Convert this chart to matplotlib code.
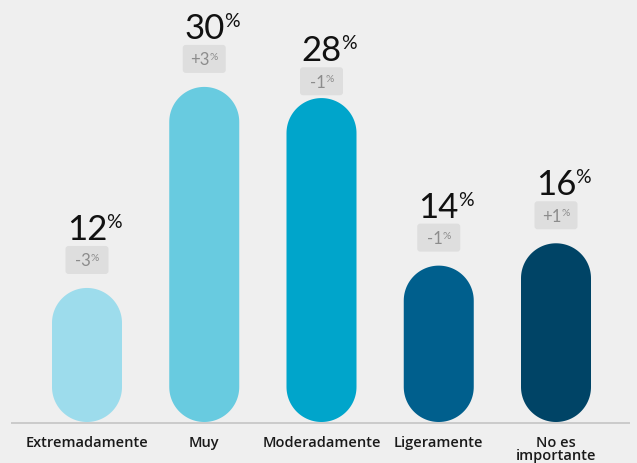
import matplotlib
matplotlib.use("Agg")
import numpy as np
from matplotlib import pyplot as plt
from matplotlib.patches import FancyBboxPatch, Polygon

plt.rcParams['font.family'] = ['Lato', 'DejaVu Sans']

# chart data
categories = ["Extremadamente", "Muy", "Moderadamente", "Ligeramente", "No es\nimportante"]
values = [12, 30, 28, 14, 16]            # shown labels
bar_lengths = [12.0, 30.0, 29.0, 14.0, 16.0]   # bar lengths as drawn
changes = ["-3", "+3", "-1", "-1", "+1"]
colors = ["#9ddcec", "#68cbe0", "#00a5cb", "#005f8d", "#004466"]

bg = "#efefef"
W, H = 637, 463

fig = plt.figure(figsize=(W / 100, H / 100), dpi=100, facecolor=bg)
base_px = 422          # baseline, pixels from the top
px_x = 117.25          # pixels per category step
px_y = 11.17           # pixels per percent
first_px = 87

ax = fig.add_axes([0, 1 - base_px / H, 1, base_px / H])
ax.set_facecolor(bg)
ax.set_xlim(-first_px / px_x, (W - first_px) / px_x)
ax.set_ylim(0, base_px / px_y)
ax.axis("off")

rx = 35 / px_x
ry = 35 / px_y
aspect = px_x / px_y
ang_top = np.linspace(0, np.pi, 60)
ang_bot = np.linspace(np.pi, 2 * np.pi, 60)

for i, (v, ln, c) in enumerate(zip(values, bar_lengths, colors)):
    # pill shaped bar
    top = np.column_stack([i + rx * np.cos(ang_top), ln - ry + ry * np.sin(ang_top)])
    bot = np.column_stack([i + rx * np.cos(ang_bot), ry + ry * np.sin(ang_bot)])
    ax.add_patch(Polygon(np.vstack([top, bot]), closed=True, fc=c, ec="none"))

    # change box
    bw, bh = 43 / px_x, 28 / px_y
    by = v + 14 / px_y
    box = FancyBboxPatch((i - bw / 2, by), bw, bh,
                         boxstyle="round,pad=0,rounding_size=%f" % (3 / px_x),
                         mutation_aspect=aspect, fc="#dedede", ec="none")
    ax.add_patch(box)
    t = ax.text(i - 4 / px_x, by + bh / 2 - 6.5 / px_y, changes[i], ha="center", va="baseline",
                fontsize=12, color="#8c8c8c")
    ax.annotate("%", xy=(1, 0), xycoords=t, xytext=(0, 6), textcoords="offset points",
                ha="left", va="baseline", fontsize=7.5, color="#8c8c8c")

    # big value
    n = ax.text(i, v + 48 / px_y, str(v), ha="center", va="baseline",
                fontsize=25, color="#111111")
    ax.annotate("%", xy=(1, 0), xycoords=n, xytext=(-0.5, 13), textcoords="offset points",
                ha="left", va="baseline", fontsize=14, color="#111111")

# baseline
ax.plot([(11 - first_px) / px_x, (630 - first_px) / px_x], [-0.12, -0.12],
        color="#c8c8c8", lw=1.3, clip_on=False, solid_capstyle="butt")

for i, lab in enumerate(categories):
    ax.text(i, -14 / px_y, lab, ha="center", va="top", fontsize=10.5,
            family=["Open Sans", "DejaVu Sans"], fontweight="semibold",
            color="#1a1a1a", linespacing=0.95, clip_on=False)

fig.savefig("out.png", dpi=100, facecolor=bg)
